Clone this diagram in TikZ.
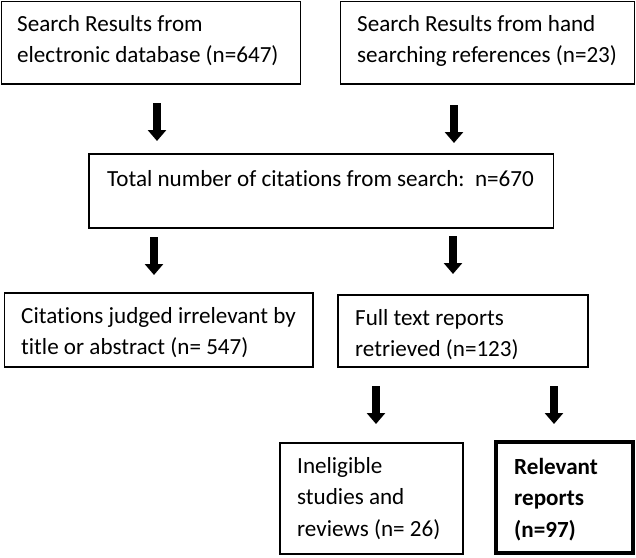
\documentclass[tikz,border=0pt]{standalone}
\usepackage{fontspec}
\setmainfont{Carlito}[RawFeature=-liga]
\usetikzlibrary{arrows.meta}
\begin{document}
\begin{tikzpicture}[x=1pt,y=-1pt,
  boxline/.style={draw=black,line width=1.3pt,fill=none},
  thickbox/.style={draw=black,line width=4pt,fill=none},
  boxtext/.style={anchor=base west,inner sep=0pt,align=flush left,text width=460pt,
    font=\fontsize{23.1}{31.5}\selectfont},
  blockarrow/.style={line width=8pt,-{Triangle[width=18pt,length=11pt]}}
]
\useasboundingbox (0,0) rectangle (636,557);
% boxes
\path[boxline] (1.5,1.2) rectangle (300.5,84) coordinate (b1);
\path[boxline] (340.5,1.2) rectangle (634.8,84) coordinate (b2);
\path[boxline] (89,154) rectangle (553.5,228) coordinate (b3);
\path[boxline] (4.5,293) rectangle (313,367) coordinate (b4);
\path[boxline] (338,295) rectangle (588,367) coordinate (b5);
\path[boxline] (280,443) rectangle (463,554) coordinate (b6);
\path[thickbox] (496,442) rectangle (633,553) coordinate (b7);
% texts
\node[boxtext] (t1) at (17,31) {Search Results from\\electronic database (n=647)};
\node[boxtext] (t2) at (357,31) {Search Results from hand\\searching references (n=23)};
\node[boxtext] (t3) at (107,186) {Total number of citations from search:~~n=670};
\node[boxtext] (t4) at (21,323) {Citations judged irrelevant by\\title or abstract (n= 547)};
\node[boxtext] (t5) at (355,325) {Full text reports\\retrieved (n=123)};
\node[boxtext] (t6) at (297,473) {Ineligible\\studies and\\reviews (n= 26)};
\node[boxtext,font=\fontsize{23.1}{31.5}\selectfont\bfseries] (t7) at (514,474) {Relevant\\reports\\(n=97)};
% arrows
\coordinate (a1s) at (157,103); \coordinate (a1e) at (157,141);
\coordinate (a2s) at (454,105); \coordinate (a2e) at (454,143);
\coordinate (a3s) at (154,237); \coordinate (a3e) at (154,275);
\coordinate (a4s) at (453,236); \coordinate (a4e) at (453,274);
\coordinate (a5s) at (376,386); \coordinate (a5e) at (376,424);
\coordinate (a6s) at (554,386); \coordinate (a6e) at (554,424);
\draw[blockarrow] (a1s) -- (a1e);
\draw[blockarrow] (a2s) -- (a2e);
\draw[blockarrow] (a3s) -- (a3e);
\draw[blockarrow] (a4s) -- (a4e);
\draw[blockarrow] (a5s) -- (a5e);
\draw[blockarrow] (a6s) -- (a6e);
\end{tikzpicture}
\end{document}
